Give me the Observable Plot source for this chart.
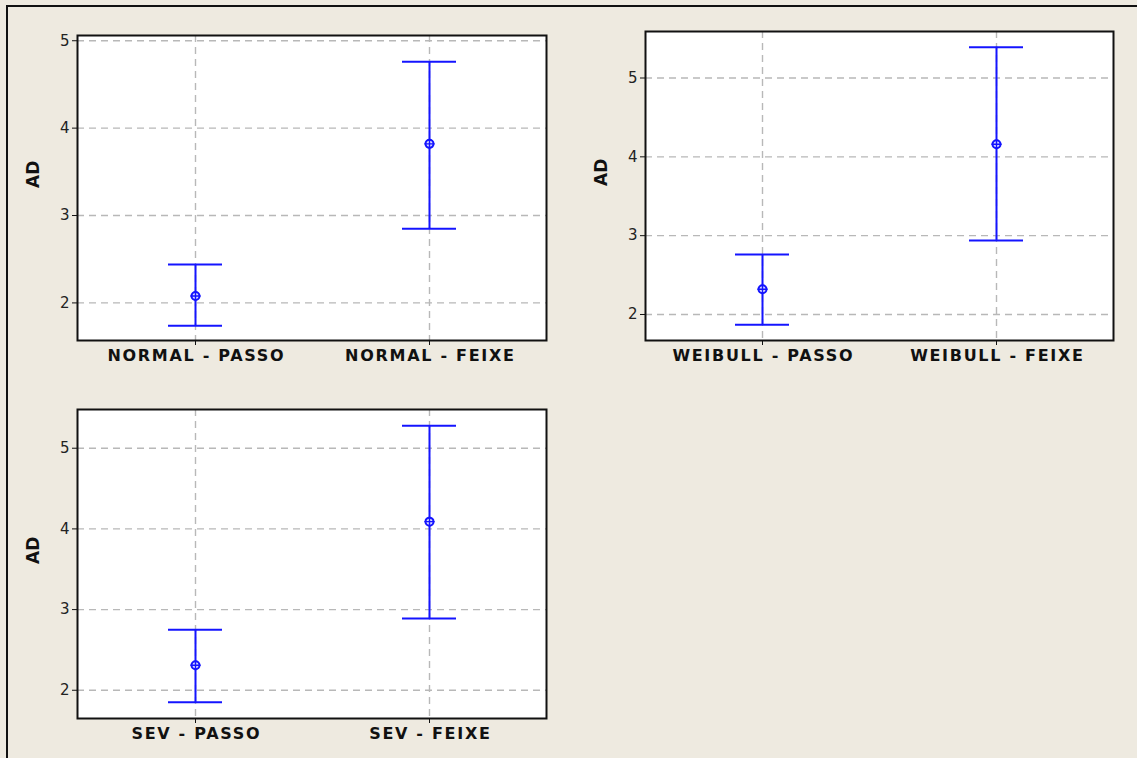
<!DOCTYPE html>
<html>
<head>
<meta charset="utf-8">
<script src="https://cdn.jsdelivr.net/npm/d3@7"></script>
<script src="https://cdn.jsdelivr.net/npm/@observablehq/plot@0.6"></script>
<style>
  html, body { margin: 0; padding: 0; background: #EEEAE0; }
  #wrap { position: relative; width: 1137px; height: 758px; background: #EEEAE0; overflow: hidden; }
  #border { position: absolute; left: 6px; top: 5px; width: 1200px; height: 800px; border-left: 2px solid #111; border-top: 2px solid #111; }
  .panel { position: absolute; }
</style>
</head>
<body>
<div id="wrap"><div id="border"></div></div>
<script>
// ---- data ----
const normalCats = ["NORMAL - PASSO", "NORMAL - FEIXE"];
const normalMean = [2.08, 3.82];
const normalLow  = [1.74, 2.85];
const normalHigh = [2.44, 4.76];

const weibullCats = ["WEIBULL - PASSO", "WEIBULL - FEIXE"];
const weibullMean = [2.32, 4.16];
const weibullLow  = [1.87, 2.94];
const weibullHigh = [2.76, 5.39];

const sevCats = ["SEV - PASSO", "SEV - FEIXE"];
const sevMean = [2.31, 4.09];
const sevLow  = [1.85, 2.89];
const sevHigh = [2.75, 5.28];

const yTicks = [2, 3, 4, 5];
const yLabel = "AD";

const BLUE = "#1414ff";
const FONT = "DejaVu Sans, Verdana, sans-serif";

function panel(cats, mean, low, high, opts) {
  const data = cats.map((c, i) => ({cat: c, mean: mean[i], low: low[i], high: high[i]}));
  const svg = Plot.plot({
    width: opts.width,
    height: opts.height,
    marginLeft: opts.ml,
    marginTop: opts.mt,
    marginRight: opts.mr,
    marginBottom: opts.mb,
    style: {background: "transparent", fontFamily: FONT, fontSize: "15px", color: "#111"},
    x: {type: "band", domain: cats, paddingInner: 0.77, paddingOuter: 0.385, label: null},
    y: {domain: opts.ydomain, label: null},
    marks: [
      Plot.frame({fill: "white"}),
      Plot.gridY(yTicks, {stroke: "#b8b8b8", strokeOpacity: 1, strokeDasharray: "7,5", strokeWidth: 1.4}),
      Plot.gridX(cats, {stroke: "#b8b8b8", strokeOpacity: 1, strokeDasharray: "7,5", strokeWidth: 1.4}),
      Plot.axisY(yTicks, {tickSize: 5, tickPadding: 3, fontSize: 15, tickFormat: d3.format("d"), label: null, stroke: "#111", fill: "#222"}),
      Plot.axisX({tickSize: 5, tickPadding: 4, fontSize: 16, fontWeight: "bold", label: null, stroke: "#111", fill: "#111"}),
      Plot.ruleX(data, {x: "cat", y1: "low", y2: "high", stroke: BLUE, strokeWidth: 2}),
      Plot.tickY(data, {x: "cat", y: "high", stroke: BLUE, strokeWidth: 2}),
      Plot.tickY(data, {x: "cat", y: "low", stroke: BLUE, strokeWidth: 2}),
      Plot.dot(data, {x: "cat", y: "mean", r: 4, stroke: BLUE, strokeWidth: 2, fill: "#d8d8ff"}),
      Plot.dot(data, {x: "cat", y: "mean", r: 3.4, symbol: "plus", stroke: BLUE, strokeWidth: 1.4}),
      Plot.text([yLabel], {frameAnchor: "left", dx: -44, rotate: -90, fontWeight: "bold", fontSize: 17, fill: "#111"}),
      Plot.frame({stroke: "#111", strokeWidth: 2})
    ]
  });
  // widen the bold labels to match the reference's wide bitmap font
  d3.select(svg).selectAll('g[aria-label="x-axis tick label"] text')
    .attr("letter-spacing", "1.7px").attr("dx", "0.85px");
  return svg;
}

const wrap = document.getElementById("wrap");
function place(svg, left, top) {
  const d = document.createElement("div");
  d.className = "panel";
  d.style.left = left + "px";
  d.style.top = top + "px";
  d.appendChild(svg);
  wrap.appendChild(d);
}

place(panel(normalCats, normalMean, normalLow, normalHigh,
  {width: 566, height: 380, ml: 77, mt: 35, mr: 20, mb: 40, ydomain: [1.57, 5.06]}), 0, 0);
place(panel(weibullCats, weibullMean, weibullLow, weibullHigh,
  {width: 567, height: 380, ml: 79, mt: 31, mr: 20, mb: 40, ydomain: [1.67, 5.59]}), 566, 0);
place(panel(sevCats, sevMean, sevLow, sevHigh,
  {width: 566, height: 378, ml: 77, mt: 29, mr: 20, mb: 40, ydomain: [1.65, 5.48]}), 0, 380);
</script>
</body>
</html>
